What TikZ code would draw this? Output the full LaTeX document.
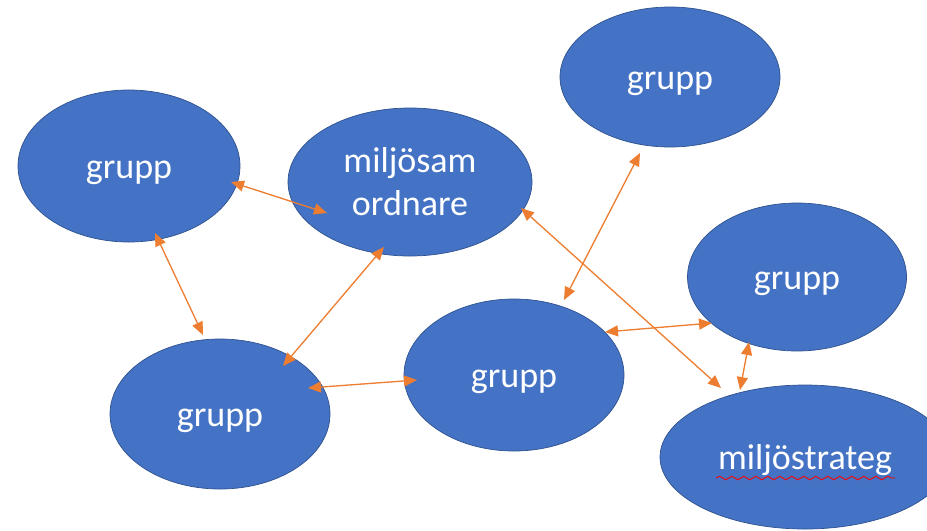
\documentclass[tikz,border=0pt]{standalone}
\usepackage{fontspec}
\setmainfont{Carlito}
\usepackage{xcolor}
\usetikzlibrary{shapes.geometric,arrows.meta,decorations.pathmorphing}
\definecolor{blobblue}{HTML}{4472C4}
\definecolor{blobedge}{HTML}{2F528F}
\definecolor{linkorange}{HTML}{ED7D31}

\begin{document}
\begin{tikzpicture}[x=0.2mm,y=-0.2mm,
  blob/.style={ellipse, draw=blobedge, fill=blobblue, line width=0.4pt, text=white,
    inner sep=0pt, align=center, font=\fontsize{20.5}{24.5}\selectfont},
  oneline/.style={text height=18.5pt, text depth=4.5pt},
  link/.style={{Triangle[length=2.6mm,width=2.2mm]}-{Triangle[length=2.6mm,width=2.2mm]},
    draw=linkorange, line width=0.75pt},
  squiggle/.style={draw=red, line width=0.5pt,
    decorate, decoration={snake, amplitude=0.35mm, segment length=2.4mm}}]
% Grupper kring miljösamordnare och miljöstrateg
\clip (0,0) rectangle (927,530);

\node[blob, oneline, minimum width=44.4mm, minimum height=30.4mm] (g1) at (129,166) {grupp};
\node[blob, minimum width=48.8mm, minimum height=29.6mm] (ms) at (410,182) {miljösam\\ordnare};
\node[blob, oneline, minimum width=44mm, minimum height=28mm] (g2) at (670,77) {grupp};
\node[blob, oneline, minimum width=43.8mm, minimum height=29.6mm] (g3) at (797,277) {grupp};
\node[blob, oneline, minimum width=44mm, minimum height=30.4mm] (g4) at (514,375) {grupp};
\node[blob, oneline, minimum width=44mm, minimum height=30mm] (g5) at (220,414) {grupp};
\node[blob, oneline, minimum width=58mm, minimum height=28.8mm] (mst) at (805,457) {miljöstrateg};

\draw[squiggle] ([shift={(-89,21)}]mst.center) -- ([shift={(90,21)}]mst.center);

\draw[link] ([shift={(102,16)}]g1.center) -- ([shift={(-83,31)}]ms.center);
\draw[link] ([shift={(26,67)}]g1.center) -- ([shift={(-17,-79)}]g5.center);
\draw[link] ([shift={(63,-48)}]g5.center) -- ([shift={(-26,65)}]ms.center);
\draw[link] ([shift={(88,-26)}]g5.center) -- ([shift={(-97,5)}]g4.center);
\draw[link] ([shift={(-30,76)}]g2.center) -- ([shift={(50,-75)}]g4.center);
\draw[link] ([shift={(111,26)}]ms.center) -- ([shift={(-84,-69)}]mst.center);
\draw[link] ([shift={(91,-43)}]g4.center) -- ([shift={(-85,46)}]g3.center);
\draw[link] ([shift={(-48,65)}]g3.center) -- ([shift={(-65,-67)}]mst.center);
\end{tikzpicture}
\end{document}
